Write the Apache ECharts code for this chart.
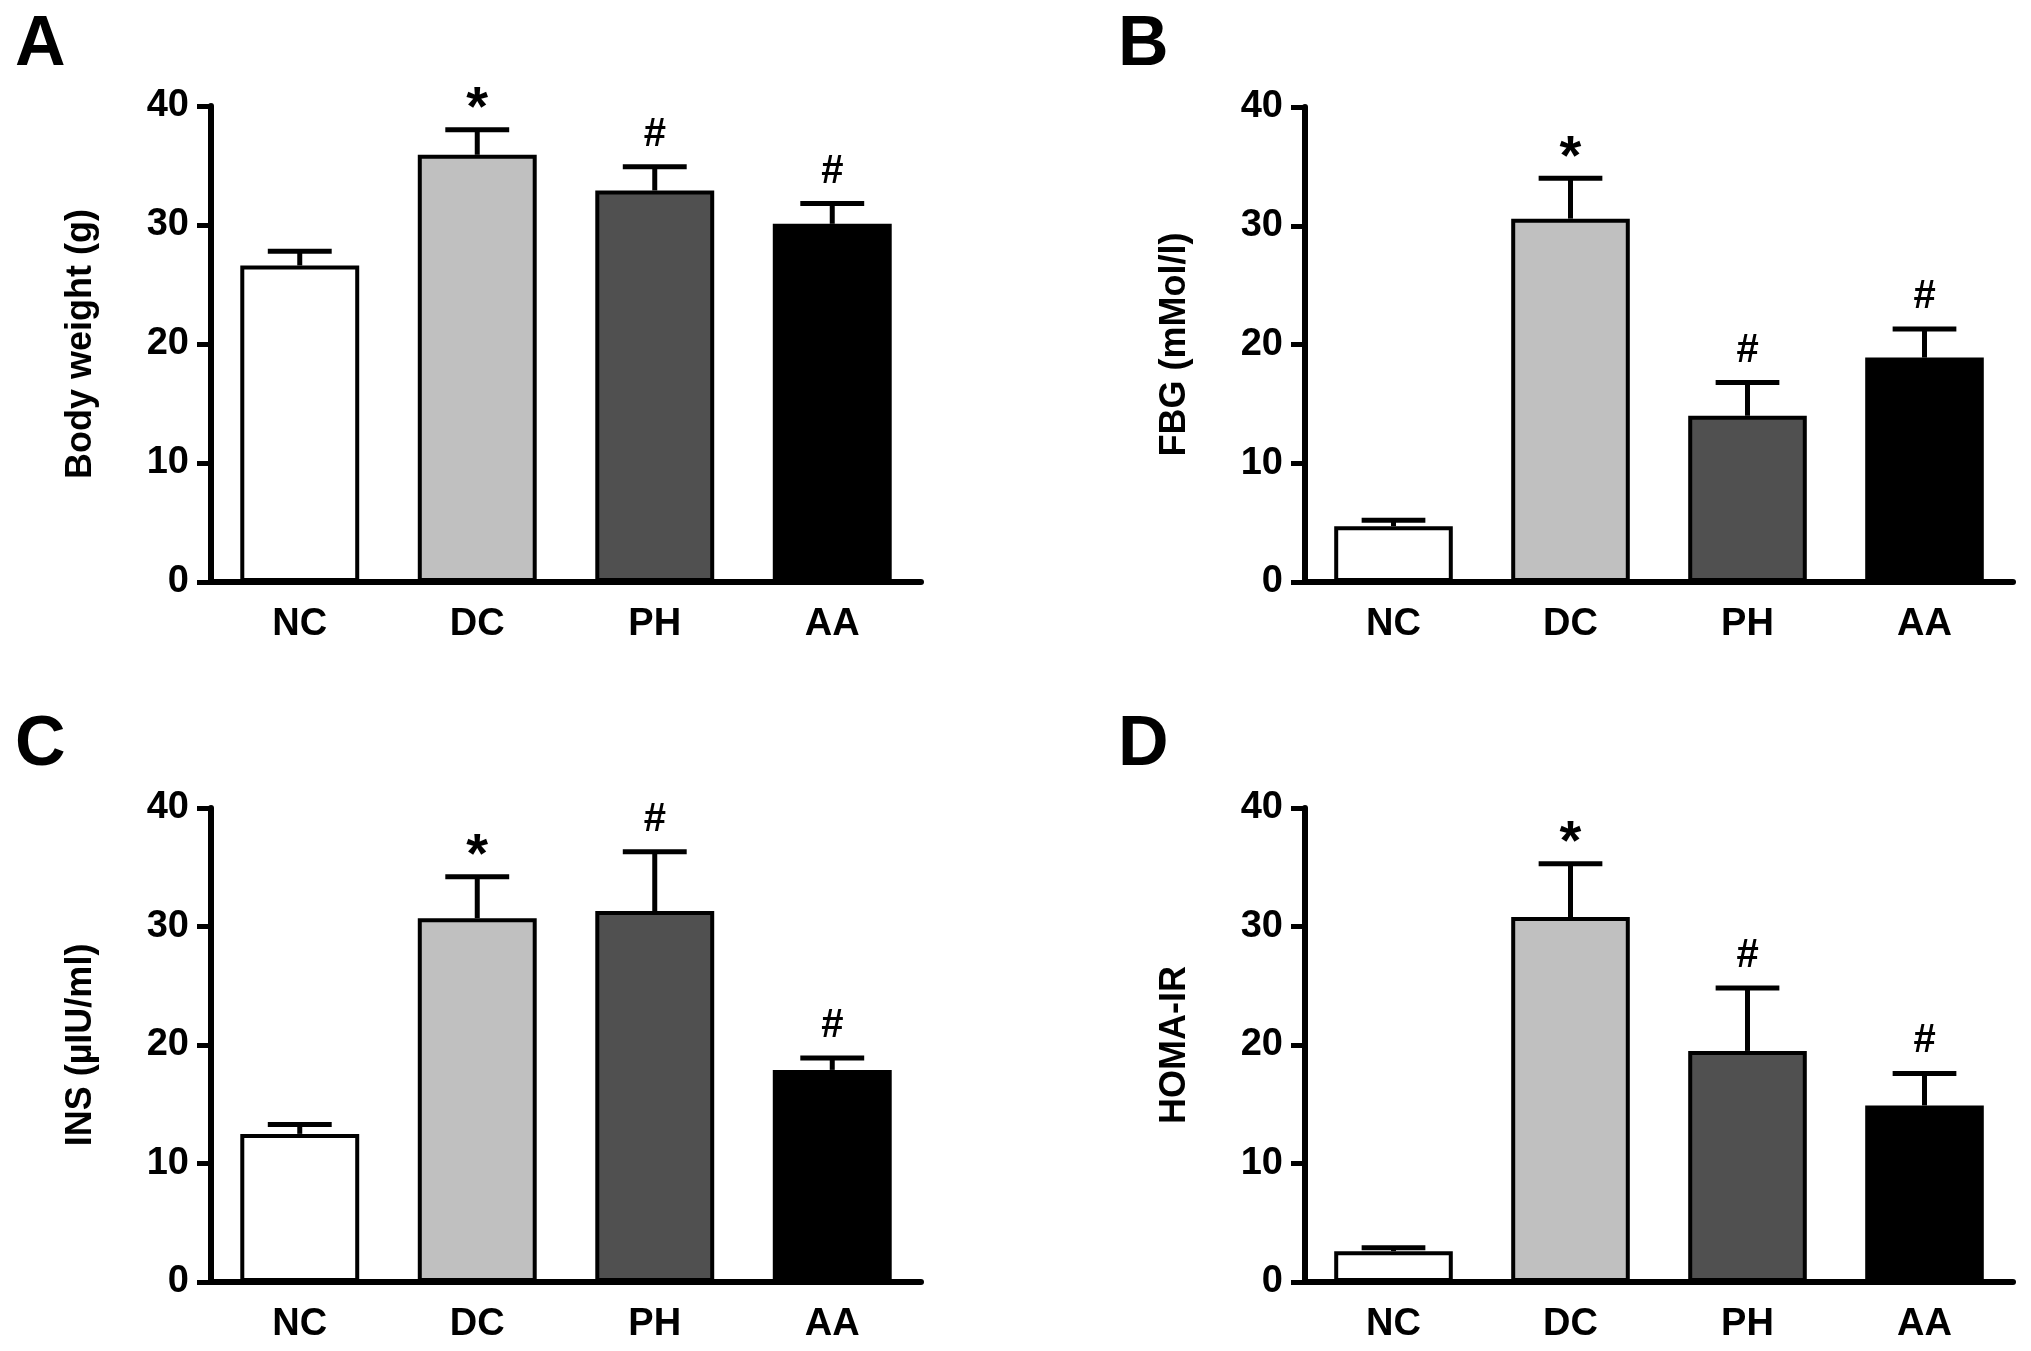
<!DOCTYPE html>
<html>
<head>
<meta charset="utf-8">
<script src="https://cdn.jsdelivr.net/npm/echarts@6/dist/echarts.min.js"></script>
<style>
  html, body { margin: 0; padding: 0; background: #fff; }
  #main { width: 2031px; height: 1351px; }
</style>
</head>
<body>
<div id="main"></div>
<script>
var categories = ['NC', 'DC', 'PH', 'AA'];

// A - body weight
var bodyWeight = [26.6, 35.9, 32.9, 30.1];
var bodyWeightErr = [1.2, 2.1, 2.0, 1.7];
var bodyWeightMarks = ['', '*', '#', '#'];

// B - fasting blood glucose
var fbg = [4.7, 30.6, 14.0, 18.9];
var fbgErr = [0.5, 3.4, 2.8, 2.4];
var fbgMarks = ['', '*', '#', '#'];

// C - insulin
var ins = [12.5, 30.7, 31.3, 17.9];
var insErr = [0.8, 3.5, 5.0, 1.0];
var insMarks = ['', '*', '#', '#'];

// D - HOMA-IR
var homa = [2.6, 30.8, 19.5, 14.9];
var homaErr = [0.3, 4.5, 5.3, 2.7];
var homaMarks = ['', '*', '#', '#'];

var yTicks = { min: 0, max: 40, interval: 10 };

var barColors = ['#ffffff', '#c0c0c0', '#505050', '#000000'];
var FONT = '"Liberation Sans", Arial, Helvetica, sans-serif';

var panels = [
  { letter: 'A', name: 'Body weight (g)', vals: bodyWeight, errs: bodyWeightErr, marks: bodyWeightMarks,
    grid: { left: 211, top: 106, width: 710, height: 476 }, lx: 10, ly: 6 },
  { letter: 'B', name: 'FBG (mMol/l)', vals: fbg, errs: fbgErr, marks: fbgMarks,
    grid: { left: 1305, top: 107, width: 708, height: 475 }, lx: 1113, ly: 6 },
  { letter: 'C', name: 'INS (µIU/ml)', vals: ins, errs: insErr, marks: insMarks,
    grid: { left: 211, top: 808, width: 710, height: 474 }, lx: 10, ly: 706 },
  { letter: 'D', name: 'HOMA-IR', vals: homa, errs: homaErr, marks: homaMarks,
    grid: { left: 1305, top: 808, width: 708, height: 474 }, lx: 1113, ly: 706 }
];

function errorRenderer(marks) {
  return function (params, api) {
    var i = api.value(0);
    var v = api.value(1);
    var e = api.value(2);
    var base = api.coord([i, v]);
    var top = api.coord([i, v + e]);
    var hw = api.size([1, 0])[0] * 0.18;
    var style = { stroke: '#000', lineWidth: 5 };
    var kids = [
      { type: 'line', shape: { x1: base[0], y1: base[1], x2: top[0], y2: top[1] }, style: style },
      { type: 'line', shape: { x1: top[0] - hw, y1: top[1], x2: top[0] + hw, y2: top[1] }, style: style }
    ];
    var m = marks[params.dataIndex];
    if (m) {
      var star = m === '*';
      kids.push({
        type: 'text',
        style: {
          text: m,
          x: top[0],
          y: star ? top[1] + 8 : top[1] - 32,
          fill: '#000',
          fontFamily: FONT,
          fontWeight: 'bold',
          fontSize: star ? 56 : 40,
          align: 'center',
          verticalAlign: star ? 'bottom' : 'middle'
        }
      });
    }
    return { type: 'group', children: kids };
  };
}

var option = { backgroundColor: '#fff', animation: false, title: [], grid: [], xAxis: [], yAxis: [], series: [] };

panels.forEach(function (p, k) {
  option.title.push({
    text: p.letter, left: p.lx, top: p.ly,
    textStyle: { fontFamily: FONT, fontWeight: 'bold', fontSize: 70, color: '#000' }
  });
  option.grid.push(p.grid);
  option.xAxis.push({
    type: 'category', gridIndex: k, data: categories,
    axisLine: { lineStyle: { color: '#000', width: 6 } },
    axisTick: { alignWithLabel: true, length: 14, lineStyle: { color: '#000', width: 5 } },
    axisLabel: { margin: 24, color: '#000', fontFamily: FONT, fontWeight: 'bold', fontSize: 38 }
  });
  option.yAxis.push({
    type: 'value', gridIndex: k, min: yTicks.min, max: yTicks.max, interval: yTicks.interval,
    name: p.name, nameLocation: 'middle', nameGap: 112,
    nameTextStyle: { color: '#000', fontFamily: FONT, fontWeight: 'bold', fontSize: 36 },
    axisLine: { show: true, lineStyle: { color: '#000', width: 6 } },
    axisTick: { show: true, length: 14, lineStyle: { color: '#000', width: 5 } },
    splitLine: { show: false },
    axisLabel: { margin: 22, color: '#000', fontFamily: FONT, fontWeight: 'bold', fontSize: 38 }
  });
  option.series.push({
    type: 'bar', xAxisIndex: k, yAxisIndex: k, barCategoryGap: '33%',
    data: p.vals.map(function (v, i) {
      return { value: v, itemStyle: { color: barColors[i], borderColor: '#000', borderWidth: 4 } };
    })
  });
  option.series.push({
    type: 'custom', xAxisIndex: k, yAxisIndex: k, z: 5,
    renderItem: errorRenderer(p.marks),
    data: p.vals.map(function (v, i) { return [i, v, p.errs[i]]; })
  });
});

var chart = echarts.init(document.getElementById('main'));
chart.setOption(option);
</script>
</body>
</html>
